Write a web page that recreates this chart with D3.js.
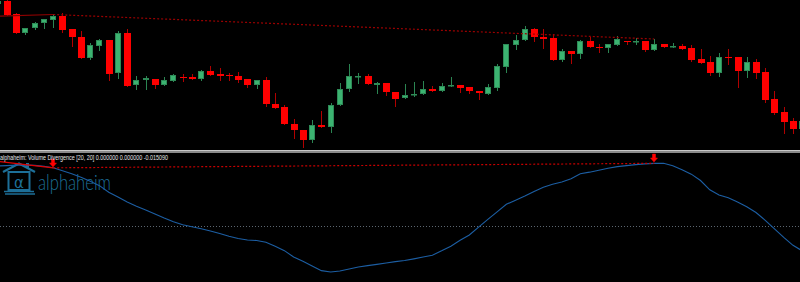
<!DOCTYPE html>
<html>
<head>
<meta charset="utf-8">
<script src="https://cdn.jsdelivr.net/npm/d3@7"></script>
<style>
    body { margin: 0; background: #000; overflow: hidden; }
    svg { display: block; }
</style>
</head>
<body>
<svg class="paint" width="800" height="282"></svg>
<script>
// bar index (one per candle, left to right)
const barIndex = d3.range(88);
const openPrice = [1.1796, 1.1799, 1.1786, 1.1767, 1.1772, 1.1777, 1.1780, 1.1784, 1.1771, 1.1763,
    1.1742, 1.1754, 1.1760, 1.1727, 1.1767, 1.1715, 1.1720, 1.1721, 1.1715, 1.1719,
    1.1723, 1.1723, 1.1721, 1.1729, 1.1726, 1.1725, 1.1724, 1.1721, 1.1715, 1.1720,
    1.1696, 1.1693, 1.1676, 1.1670, 1.1660, 1.1675, 1.1673, 1.1695, 1.1711, 1.1723,
    1.1724, 1.1715, 1.1717, 1.1708, 1.1702, 1.1705, 1.1706, 1.1711, 1.1709, 1.1714,
    1.1715, 1.1713, 1.1709, 1.1706, 1.1712, 1.1733, 1.1755, 1.1760, 1.1771, 1.1763,
    1.1762, 1.1740, 1.1749, 1.1746, 1.1759, 1.1753, 1.1752, 1.1755, 1.1759, 1.1758,
    1.1759, 1.1750, 1.1756, 1.1753, 1.1754, 1.1752, 1.1741, 1.1738, 1.1727, 1.1743,
    1.1743, 1.1729, 1.1738, 1.1728, 1.1701, 1.1688, 1.1679, 1.1671];
const highPrice = [1.1800, 1.17995, 1.1787, 1.1772, 1.1778, 1.1781, 1.17855, 1.17865, 1.1771, 1.1769,
    1.1757, 1.1761, 1.1760, 1.1769, 1.1771, 1.1724, 1.1724, 1.1721, 1.1723, 1.1726,
    1.1726, 1.1726, 1.1730, 1.1734, 1.1732, 1.1727, 1.1728, 1.1721, 1.1720, 1.1723,
    1.1707, 1.1695, 1.1681, 1.1670, 1.1680, 1.1689, 1.1697, 1.1717, 1.1736, 1.1727,
    1.1726, 1.1718, 1.1717, 1.1708, 1.1716, 1.1718, 1.1719, 1.1714, 1.1717, 1.1723,
    1.1715, 1.1713, 1.1709, 1.1716, 1.1736, 1.1756, 1.1765, 1.1774, 1.1772, 1.1771,
    1.1766, 1.1751, 1.1749, 1.1760, 1.1763, 1.1756, 1.1756, 1.1764, 1.1759, 1.1762,
    1.1759, 1.1761, 1.1756, 1.1757, 1.1756, 1.1755, 1.1751, 1.1744, 1.1747, 1.1751,
    1.1743, 1.1743, 1.1741, 1.1732, 1.1709, 1.1693, 1.1682, 1.1680];
const lowPrice = [1.1795, 1.1785, 1.1767, 1.1766, 1.1771, 1.1772, 1.1773, 1.1768, 1.1754, 1.1742,
    1.1741, 1.1750, 1.1720, 1.1722, 1.1714, 1.1711, 1.1711, 1.1712, 1.1715, 1.1719,
    1.1719, 1.1721, 1.1720, 1.1725, 1.1720, 1.1720, 1.1718, 1.1713, 1.1712, 1.1694,
    1.1692, 1.1676, 1.1662, 1.1653, 1.1658, 1.1673, 1.1668, 1.1695, 1.1709, 1.1717,
    1.1716, 1.1707, 1.1705, 1.1694, 1.1702, 1.1704, 1.1706, 1.1709, 1.1709, 1.1714,
    1.1708, 1.1707, 1.1701, 1.1706, 1.1710, 1.1728, 1.1751, 1.1760, 1.1759, 1.1752,
    1.1740, 1.1739, 1.1737, 1.1742, 1.1753, 1.1748, 1.1748, 1.1755, 1.1756, 1.1756,
    1.1749, 1.1750, 1.1753, 1.1753, 1.1751, 1.1739, 1.1737, 1.1725, 1.1724, 1.1736,
    1.1713, 1.1723, 1.1722, 1.1698, 1.1686, 1.1667, 1.1667, 1.1670];
const closePrice = [1.1799, 1.1785, 1.1767, 1.1772, 1.1777, 1.1781, 1.1784, 1.1770, 1.1763, 1.1742,
    1.1755, 1.1760, 1.1726, 1.1767, 1.1714, 1.1720, 1.1722, 1.1715, 1.1720, 1.1725,
    1.1722, 1.1721, 1.1729, 1.1725, 1.1724, 1.1724, 1.1720, 1.1715, 1.1720, 1.1696,
    1.1692, 1.1676, 1.1670, 1.1660, 1.1675, 1.1673, 1.1695, 1.1711, 1.1724, 1.1724,
    1.1716, 1.1717, 1.1708, 1.1701, 1.1705, 1.1706, 1.1711, 1.1709, 1.1714, 1.1715,
    1.1712, 1.1709, 1.1707, 1.1713, 1.1734, 1.1756, 1.1760, 1.1771, 1.1763, 1.1761,
    1.1740, 1.1749, 1.1746, 1.1759, 1.1753, 1.17525, 1.1756, 1.1761, 1.1758, 1.1759,
    1.1750, 1.1756, 1.1753, 1.1754, 1.1751, 1.1740, 1.1737, 1.1727, 1.1743, 1.17425,
    1.1729, 1.1738, 1.1727, 1.1700, 1.1687, 1.1678, 1.1671, 1.1679];
// Volume Divergence indicator value per bar
const volDiv = [0.0360, 0.0362, 0.0365, 0.0365, 0.0364, 0.0358, 0.0349, 0.0332, 0.0314, 0.0292,
    0.0269, 0.0242, 0.0203, 0.0174, 0.0144, 0.0119, 0.0096, 0.0072, 0.0048, 0.0026,
    0.0007, -0.0004, -0.0016, -0.0030, -0.0045, -0.0062, -0.0075, -0.0084, -0.0087, -0.0098,
    -0.0122, -0.0148, -0.0186, -0.0212, -0.0240, -0.0268, -0.0276, -0.0270, -0.0258, -0.0246,
    -0.0238, -0.0230, -0.0222, -0.0214, -0.0207, -0.0197, -0.0186, -0.0175, -0.0149, -0.0121,
    -0.0085, -0.0054, -0.0007, 0.0040, 0.0085, 0.0130, 0.0155, 0.0180, 0.0207, 0.0232,
    0.0250, 0.0264, 0.0283, 0.0313, 0.0323, 0.0335, 0.0346, 0.0356, 0.0362, 0.0368,
    0.0373, 0.0376, 0.0376, 0.0362, 0.0337, 0.0311, 0.0273, 0.0217, 0.0186, 0.0169,
    0.0144, 0.0115, 0.0081, 0.0034, -0.0017, -0.0068, -0.0116, -0.0149];
// divergence: the two bars whose highs are joined, and the earlier line that ends on the first
const divergenceBars = [6, 71];
const priorBar = -3;
const priorPriceHigh = 1.1783;
const priorIndHigh = 0.0407;
const indicatorLabel = "alphaheim: Volume Divergence [20, 20] 0.000000 0.000000 -0.015090";

var main;
(function (main) {
    const bodyWidth = 6;
    let svg = d3.select(".paint");
    let x = d3.scaleLinear().domain([0, 87]).range([-2.25, 802.24]);
    let yPrice = d3.scaleLinear().domain([1.1650, 1.1800]).range([150, 0]);
    let yInd = d3.scaleLinear().domain([-0.04, 0.04]).range([292.67, 159.33]);

    function ini() {
        svg.append("rect").attr("width", 800).attr("height", 282).attr("fill", "#000");
        drawLogo();
        drawCandles();
        drawPriceLines();
        drawSeparator();
        drawIndicator();
    }
    main.ini = ini;

    function drawCandles() {
        let candles = barIndex.map((i) => ({
            i: i, o: openPrice[i], h: highPrice[i], l: lowPrice[i], c: closePrice[i]
        }));
        let g = svg.append("g").classed("candles", true);
        let joinCandles = g.selectAll(".candle").data(candles).enter().append("g")
            .classed("candle", true);
        joinCandles.each(function (d) {
            let _g = d3.select(this);
            let up = d.c >= d.o;
            let cx = Math.round(x(d.i));
            _g.append("line")
                .attr("x1", cx + 0.5).attr("x2", cx + 0.5)
                .attr("y1", Math.round(yPrice(d.h))).attr("y2", Math.round(yPrice(d.l)) + 1)
                .attr("stroke", up ? "#2b8552" : "#b10000")
                .attr("stroke-width", 1);
            let top = Math.round(yPrice(Math.max(d.o, d.c)));
            let bot = Math.round(yPrice(Math.min(d.o, d.c)));
            let h = Math.max(bot - top, 1);
            if (up) {
                _g.append("rect")
                    .attr("x", cx - 2.5).attr("y", top + 0.5)
                    .attr("width", bodyWidth - 1).attr("height", Math.max(h - 1, 0.5))
                    .attr("fill", "#3cb371").attr("stroke", "#2e8b57").attr("stroke-width", 1);
            }
            else {
                _g.append("rect")
                    .attr("x", cx - 3).attr("y", top)
                    .attr("width", bodyWidth + 1).attr("height", h)
                    .attr("fill", "#ff0000");
            }
        });
    }

    function drawPriceLines() {
        let a = divergenceBars[0], b = divergenceBars[1];
        svg.append("line")
            .attr("x1", x(priorBar)).attr("y1", yPrice(priorPriceHigh))
            .attr("x2", x(a)).attr("y2", yPrice(highPrice[a]))
            .attr("stroke", "#8e0000").attr("stroke-width", 1.2);
        svg.append("line")
            .attr("x1", x(a)).attr("y1", yPrice(highPrice[a]))
            .attr("x2", x(b)).attr("y2", yPrice(highPrice[b]))
            .attr("stroke", "#9a0000").attr("stroke-width", 1.2)
            .attr("stroke-dasharray", "2,2");
    }

    function drawSeparator() {
        svg.append("rect").attr("x", 0).attr("y", 150).attr("width", 800).attr("height", 3)
            .attr("fill", "#8a8a8a");
        svg.append("rect").attr("x", 0).attr("y", 150).attr("width", 800).attr("height", 1)
            .attr("fill", "#c8c8c8");
    }

    function drawIndicator() {
        svg.append("line")
            .attr("x1", 0).attr("x2", 800)
            .attr("y1", Math.round(yInd(0)) + 0.5).attr("y2", Math.round(yInd(0)) + 0.5)
            .attr("stroke", "#5c6670").attr("stroke-dasharray", "1,2");
        let line = d3.line().x((d) => x(d)).y((d) => yInd(volDiv[d]));
        svg.append("path")
            .attr("d", line(barIndex))
            .attr("fill", "none").attr("stroke", "#1c5ea3").attr("stroke-width", 1.1);
        let a = divergenceBars[0], b = divergenceBars[1];
        svg.append("line")
            .attr("x1", x(priorBar)).attr("y1", yInd(priorIndHigh))
            .attr("x2", x(a)).attr("y2", yInd(volDiv[a]))
            .attr("stroke", "#e00000").attr("stroke-width", 1.2);
        svg.append("line")
            .attr("x1", x(a)).attr("y1", yInd(volDiv[a]))
            .attr("x2", x(b)).attr("y2", yInd(volDiv[b]))
            .attr("stroke", "#c80000").attr("stroke-width", 1.2)
            .attr("stroke-dasharray", "2,2");
        // down arrows above the two indicator highs
        svg.selectAll(".arrow").data(divergenceBars).enter().append("path")
            .classed("arrow", true)
            .attr("transform", (d) => "translate(" + Math.round(x(d)) + "," + Math.round(yInd(volDiv[d]) - 1) + ")")
            .attr("d", "M-1.5,-8 L1.5,-8 L1.5,-4 L3.5,-4 L0,0 L-3.5,-4 L-1.5,-4 Z")
            .attr("fill", "#ff0000").attr("stroke", "#ff0000").attr("stroke-width", 0.5);
        svg.append("text")
            .attr("x", 0).attr("y", 160)
            .attr("font-family", "Liberation Sans, Arial, sans-serif")
            .attr("font-size", 7.5)
            .attr("textLength", 168).attr("lengthAdjust", "spacingAndGlyphs")
            .attr("fill", "#e6e6e6")
            .text(indicatorLabel);
    }

    function drawLogo() {
        let col = "#1d6f98";
        let g = svg.append("g").classed("logo", true);
        g.append("polyline").attr("points", "3,172 19,163.5 35,172")
            .attr("fill", "none").attr("stroke", col).attr("stroke-width", 2.2);
        g.append("rect").attr("x", 26).attr("y", 163).attr("width", 3).attr("height", 5).attr("fill", col);
        g.append("rect").attr("x", 8.5).attr("y", 172).attr("width", 21).attr("height", 18)
            .attr("fill", "none").attr("stroke", col).attr("stroke-width", 2);
        g.append("text").attr("x", 19).attr("y", 188).attr("text-anchor", "middle")
            .attr("font-family", "DejaVu Sans, sans-serif").attr("font-size", 15)
            .attr("fill", col).text("α");
        g.append("line").attr("x1", 4).attr("x2", 34).attr("y1", 191.5).attr("y2", 191.5)
            .attr("stroke", col).attr("stroke-width", 1.5);
        g.append("line").attr("x1", 5).attr("x2", 35).attr("y1", 194).attr("y2", 194)
            .attr("stroke", col).attr("stroke-width", 1.5);
        g.append("text").attr("x", 38).attr("y", 189.5)
            .attr("font-family", "Lato, sans-serif").attr("font-weight", 300).attr("font-size", 21)
            .attr("textLength", 73).attr("lengthAdjust", "spacingAndGlyphs")
            .attr("fill", col).text("alphaheim");
    }
})(main || (main = {}));
let _main = main.ini();
</script>
</body>
</html>
